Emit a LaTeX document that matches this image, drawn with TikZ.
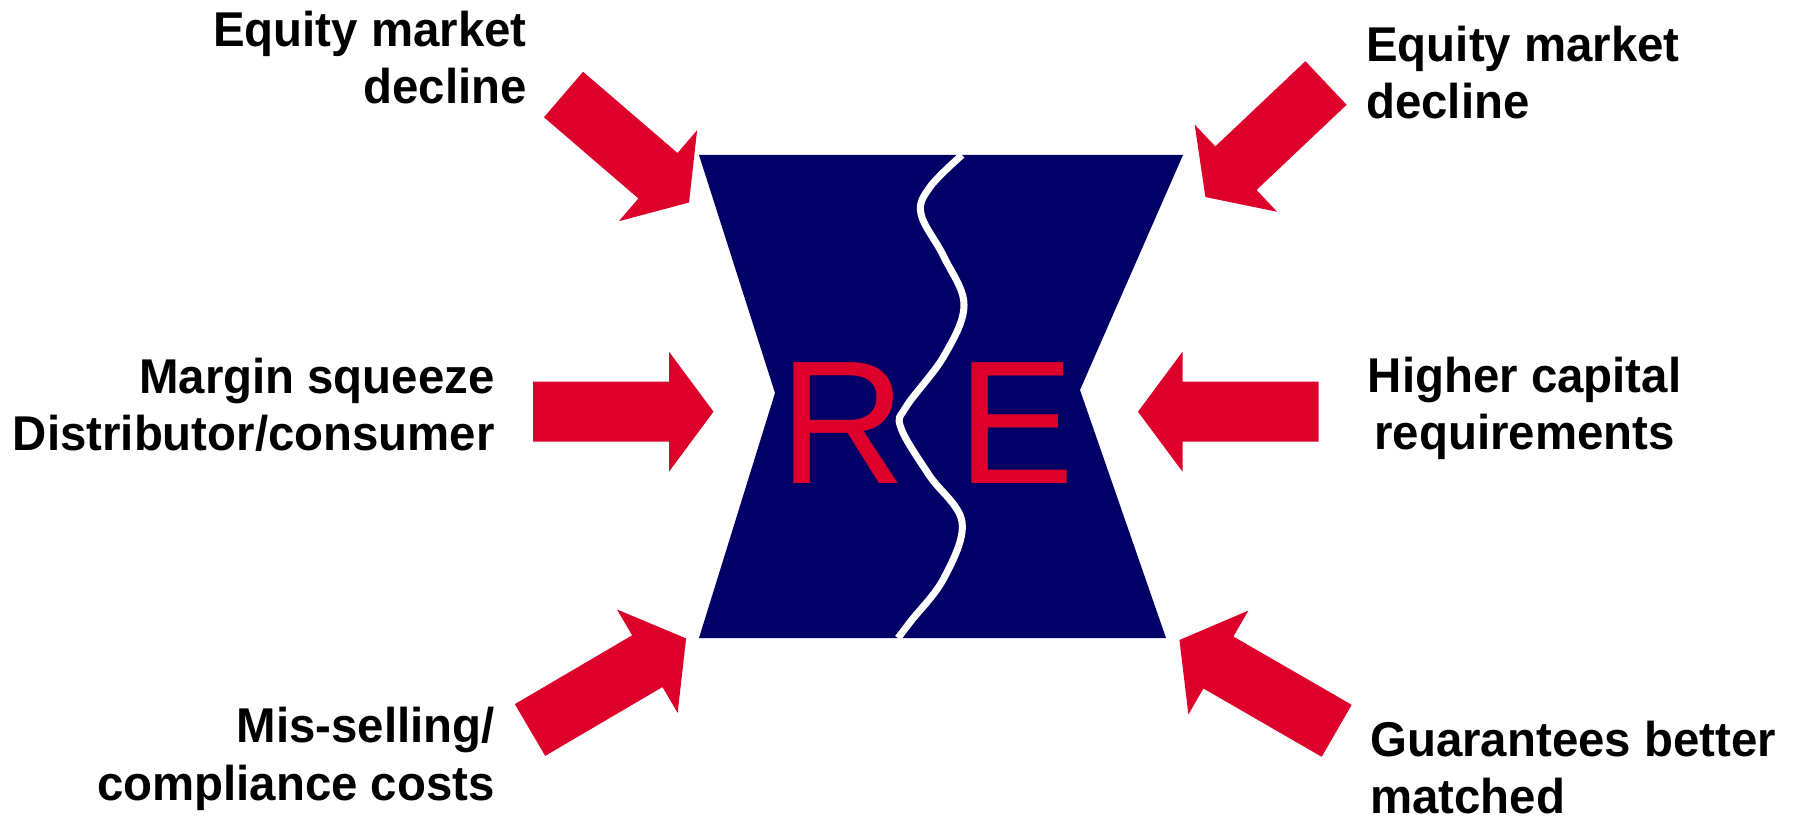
\documentclass[tikz,border=0pt]{standalone}
\usepackage{fontspec}
\setmainfont{Liberation Sans}
\newfontfamily\labelfont{Liberation Sans}[FakeStretch=0.97]
\definecolor{squeezered}{RGB}{221,0,43}
\definecolor{boxnavy}{RGB}{0,0,102}

\begin{document}
\begin{tikzpicture}[x=0.02cm, y=-0.02cm, every node/.style={inner sep=0pt},
        sidetext/.style={font=\labelfont\bfseries\fontsize{27.8}{32.6}\selectfont},
        bigletter/.style={text=squeezered, font=\fontsize{100}{100}\selectfont},
        bigarrow/.style={fill=squeezered}]
        \useasboundingbox (0,0) rectangle (1799,817);

        % the squeezed block with its crack
        \fill[boxnavy] (699,155) -- (1183,155) -- (1080,390) -- (1166,638) -- (699,638) -- (775,393) -- cycle;
        \draw[white, line width=4pt] plot[smooth, tension=0.6] coordinates {(962,155) (930,187) (921,214) (944,257) (964,305) (944,356) (906,407) (901,428) (929,475) (962,522) (944,578) (911,621) (898,638)};

        \node[bigletter, anchor=base] (letR) at (843,483) {R};
        \node[bigletter, anchor=base] (letE) at (1016,483) {E};

        % pressures from the left
        \begin{scope}[shift={(563.5,94.5)}, rotate=-40.7]
            \fill[bigarrow] (0,-30) -- (124.6,-30) -- (124.6,-60) -- (165.6,0) -- (124.6,60) -- (124.6,30) -- (0,30) -- cycle;
        \end{scope}

        \begin{scope}[shift={(533,411.7)}]
            \fill[bigarrow] (0,-30) -- (136,-30) -- (136,-60) -- (180.5,0) -- (136,60) -- (136,30) -- (0,30) -- cycle;
        \end{scope}

        \begin{scope}[shift={(530,730)}, rotate=30.4]
            \fill[bigarrow] (0,-30) -- (136,-30) -- (136,-60) -- (181,0) -- (136,60) -- (136,30) -- (0,30) -- cycle;
        \end{scope}

        % pressures from the right
        \begin{scope}[shift={(1326,83)}, rotate=-136.6]
            \fill[bigarrow] (0,-30) -- (124,-30) -- (124,-60) -- (166,0) -- (124,60) -- (124,30) -- (0,30) -- cycle;
        \end{scope}

        \begin{scope}[shift={(1318.5,411.7)}, rotate=180]
            \fill[bigarrow] (0,-30) -- (136,-30) -- (136,-60) -- (180.5,0) -- (136,60) -- (136,30) -- (0,30) -- cycle;
        \end{scope}

        \begin{scope}[shift={(1336.7,730.8)}, rotate=150]
            \fill[bigarrow] (0,-30) -- (136.6,-30) -- (136.6,-60) -- (181.6,0) -- (136.6,60) -- (136.6,30) -- (0,30) -- cycle;
        \end{scope}

        % labels, placed by the baseline of their last line
        \node[sidetext, align=right, anchor=base east] (eqleft) at (527,104) {Equity market\\decline};
        \node[sidetext, align=left, anchor=base west] (eqright) at (1366,118.3) {Equity market\\decline};
        \node[sidetext, align=right, anchor=base east] (margin) at (495,450.7) {Margin squeeze\\Distributor/consumer};
        \node[sidetext, align=center, anchor=base] (capital) at (1524.6,449.3) {Higher capital\\requirements};
        \node[sidetext, align=right, anchor=base east] (missell) at (495,800) {Mis-selling/\\compliance costs};
        \node[sidetext, align=left, anchor=base west] (guarantee) at (1370,813.7) {Guarantees better\\matched};
    \end{tikzpicture}
\end{document}
